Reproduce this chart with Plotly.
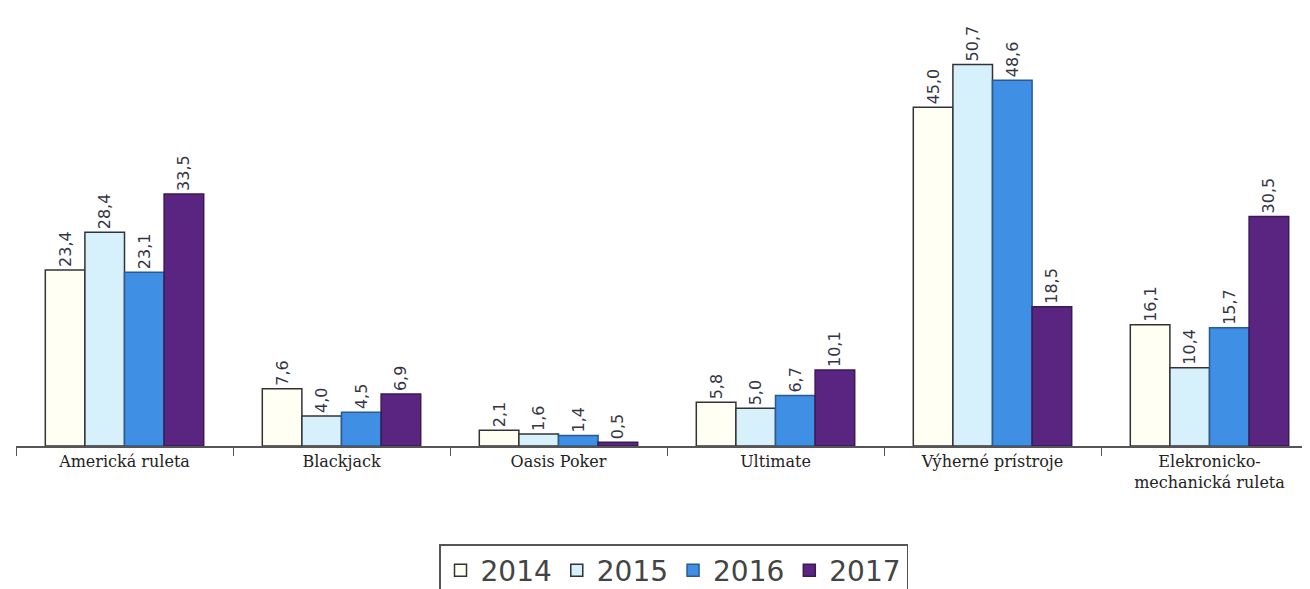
import plotly.graph_objects as go

categories = ["Americká ruleta", "Blackjack", "Oasis Poker", "Ultimate",
              "Výherné prístroje", "Elekronicko-<br>mechanická ruleta"]
years = ["2014", "2015", "2016", "2017"]
v2014 = [23.4, 7.6, 2.1, 5.8, 45.0, 16.1]
v2015 = [28.4, 4.0, 1.6, 5.0, 50.7, 10.4]
v2016 = [23.1, 4.5, 1.4, 6.7, 48.6, 15.7]
v2017 = [33.5, 6.9, 0.5, 10.1, 18.5, 30.5]
series = [v2014, v2015, v2016, v2017]
colors = ["#FFFFF4", "#D6F1FC", "#3F8FE4", "#5A2580"]
lines = ["#333333", "#333333", "#2A5A90", "#3A1A55"]

fig = go.Figure()
for y, vals, c, lc in zip(years, series, colors, lines):
    fig.add_bar(
        x=categories, y=vals, name=y,
        marker=dict(color=c, line=dict(color=lc, width=1.5)),
        text=[f"{v:.1f}".replace(".", ",") for v in vals],
        textposition="outside", textangle=-90,
        textfont=dict(family="DejaVu Sans", size=16, color="#333344"),
        cliponaxis=False,
    )

fig.update_layout(
    width=1310, height=589,
    margin=dict(l=8, r=0, t=0, b=144),
    plot_bgcolor="white", paper_bgcolor="white",
    barmode="group", bargap=0.27, bargroupgap=0,
    uniformtext=dict(minsize=16, mode="show"),
    showlegend=True,
    legend=dict(orientation="h", x=0.505, xanchor="center", y=-0.225, yanchor="top",
                font=dict(family="DejaVu Sans", size=28, color="#444444"),
                bordercolor="#555555", borderwidth=1.5, itemwidth=30,
                traceorder="normal"),
    font=dict(family="DejaVu Serif", color="#222222"),
)
fig.update_xaxes(showline=True, linecolor="#555555", linewidth=1.5,
                 ticks="outside", tickson="boundaries", ticklen=8, tickcolor="#555555",
                 tickfont=dict(family="DejaVu Serif", size=16, color="#222222"))
fig.update_yaxes(range=[0, 58.2], showgrid=False, showticklabels=False, zeroline=False)

fig.write_html("out.html")
